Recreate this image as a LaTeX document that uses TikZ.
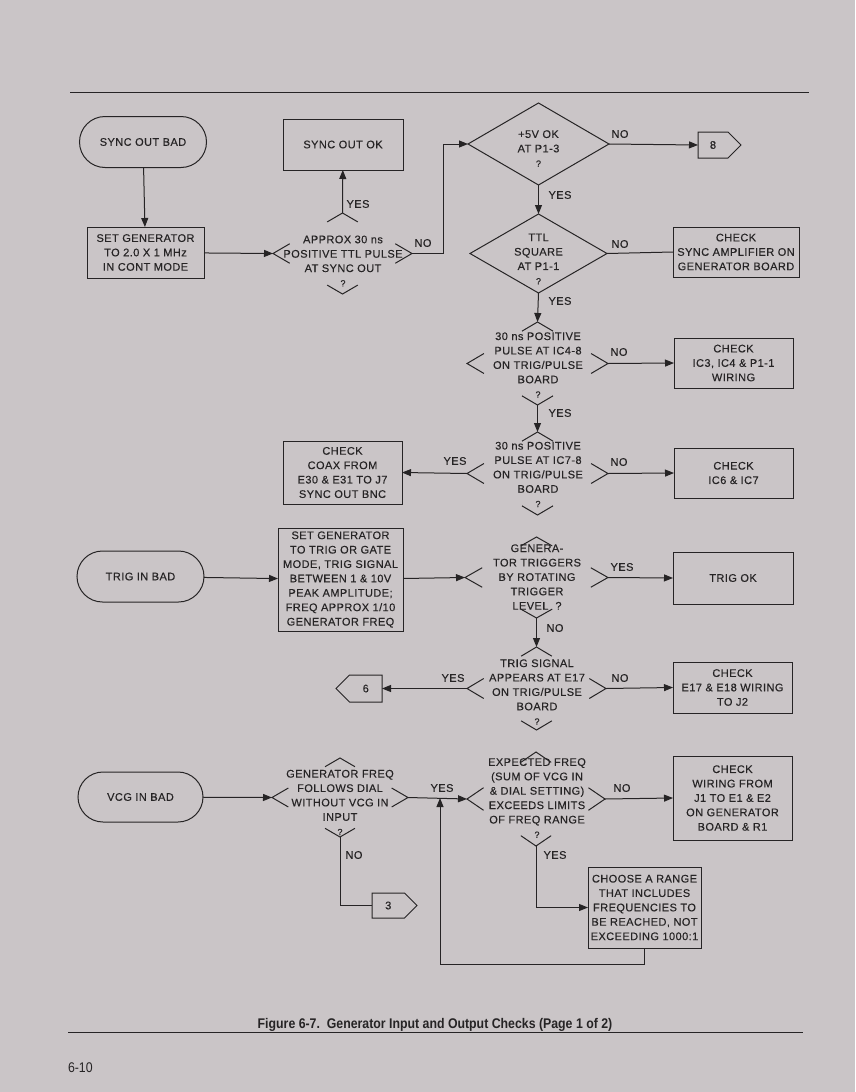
\documentclass[tikz,border=0pt]{standalone}
\usepackage{fontspec}
\usetikzlibrary{arrows.meta, calc, shapes.geometric, shapes.misc, shapes.symbols}
\newfontfamily\chartfont{Liberation Sans}[LetterSpace=4, FakeBold=0.3]
\newfontfamily\capfont{Liberation Sans}[FakeStretch=0.88]
\definecolor{page-bg}{HTML}{CAC5C7}
\definecolor{ink}{HTML}{262425}
\newcommand{\qmark}{{\fontsize{9}{9}\selectfont ?}}

\begin{document}
\begin{tikzpicture}[x=1pt, y=-1pt,
    every node/.style={font=\chartfont\fontsize{11}{14.4}\selectfont, text=ink,
      align=center, inner sep=0pt, outer sep=0pt},
    flow/.style={draw=ink, line width=1pt},
    arr/.style={flow, -{Triangle[length=9pt, width=7pt]}},
    term/.style={rounded rectangle, draw=ink, line width=1pt},
    box/.style={rectangle, draw=ink, line width=1pt},
    dec/.style={diamond},
    fulldec/.style={diamond, draw=ink, line width=1pt},
    conn/.style={signal, signal pointer angle=90, draw=ink, line width=1pt}]
    \fill[page-bg] (0,0) rectangle (855,1092);
    \draw[flow] (70,92) -- (809,92);

    \node[term, minimum width=127, minimum height=51] (sob) at (143,142) {SYNC OUT BAD};
    \node[box, minimum width=117, minimum height=51] (gen1) at (145.5,252.5)
      {SET GENERATOR\\TO 2.0 X 1 MHz\\IN CONT MODE};
    \node[box, minimum width=120, minimum height=51] (syncok) at (343,144.5) {SYNC OUT OK};
    \node[dec, minimum width=139, minimum height=81] (qpulse) at (342.5,253.5) {};
    \node (qpulset) at (343,261) {APPROX 30 ns\\POSITIVE TTL PULSE\\AT SYNC OUT\\\qmark};
    \node[fulldec, minimum width=141, minimum height=82] (q5v) at (538.5,144) {};
    \node (q5vt) at (538.5,148.5) {+5V OK\\AT P1-3\\\qmark};
    \node[conn, signal to=east, minimum width=43, minimum height=26, anchor=west] (c8) at (698,145) {8};
    \node[fulldec, minimum width=137, minimum height=79] (qttl) at (538.5,253.5) {};
    \node (qttlt) at (538.5,259) {TTL\\SQUARE\\AT P1-1\\\qmark};
    \node[box, minimum width=126, minimum height=50] (amp) at (736,252)
      {CHECK\\SYNC AMPLIFIER ON\\GENERATOR BOARD};
    \node[dec, minimum width=141, minimum height=83] (qic4) at (537.5,363.5) {};
    \node (qic4t) at (538,365) {30 ns POSITIVE\\PULSE AT IC4-8\\ON TRIG/PULSE\\BOARD\\\qmark};
    \node[box, minimum width=119, minimum height=50] (ic3) at (733.5,363)
      {CHECK\\IC3, IC4 \& P1-1\\WIRING};
    \node[dec, minimum width=141, minimum height=83] (qic7) at (537.5,473.5) {};
    \node (qic7t) at (538,474.5) {30 ns POSITIVE\\PULSE AT IC7-8\\ON TRIG/PULSE\\BOARD\\\qmark};
    \node[box, minimum width=119, minimum height=63] (coax) at (342.5,472.5)
      {CHECK\\COAX FROM\\E30 \& E31 TO J7\\SYNC OUT BNC};
    \node[box, minimum width=119, minimum height=50] (ic6) at (733.5,473) {CHECK\\IC6 \& IC7};

    \node[term, minimum width=127, minimum height=51] (tib) at (140.5,576.5) {TRIG IN BAD};
    \node[box, minimum width=125, minimum height=103] (gen2) at (340.5,579.5)
      {SET GENERATOR\\TO TRIG OR GATE\\MODE, TRIG SIGNAL\\BETWEEN 1 \& 10V\\PEAK AMPLITUDE;\\FREQ APPROX 1/10\\GENERATOR FREQ};
    \node[dec, minimum width=143, minimum height=81] (qtrig) at (536.5,577.5) {};
    \node (qtrigt) at (537,577) {GENERA-\\TOR TRIGGERS\\BY ROTATING\\TRIGGER\\LEVEL \ ?};
    \node[box, minimum width=120, minimum height=52] (trigok) at (733,578) {TRIG OK};
    \node[dec, minimum width=139, minimum height=83] (qsig) at (536.5,688.5) {};
    \node (qsigt) at (537,692) {TRIG SIGNAL\\APPEARS AT E17\\ON TRIG/PULSE\\BOARD\\\qmark};
    \node[conn, signal to=west, minimum width=46, minimum height=27, anchor=east] (c6) at (382,688.5) {6};
    \node[box, minimum width=119, minimum height=51] (e17) at (732.5,687.5)
      {CHECK\\E17 \& E18 WIRING\\TO J2};

    \node[term, minimum width=125, minimum height=50] (vib) at (140.5,797) {VCG IN BAD};
    \node[dec, minimum width=136, minimum height=79] (qfollow) at (340,797.5) {};
    \node (qfollowt) at (340,802.5) {GENERATOR FREQ\\FOLLOWS DIAL\\WITHOUT VCG IN\\INPUT\\\qmark};
    \node[conn, signal to=east, minimum width=45, minimum height=25, anchor=west] (c3) at (372,905.5) {3};
    \node[dec, minimum width=138, minimum height=94] (qexp) at (536,799) {};
    \node (qexpt) at (537,798) {EXPECTED FREQ\\(SUM OF VCG IN\\\& DIAL SETTING)\\EXCEEDS LIMITS\\OF FREQ RANGE\\\qmark};
    \node[box, minimum width=119, minimum height=84] (wiring) at (732.5,798)
      {CHECK\\WIRING FROM\\J1 TO E1 \& E2\\ON GENERATOR\\BOARD \& R1};
    \node[box, minimum width=113, minimum height=81] (choose) at (644.5,907.5)
      {CHOOSE A RANGE\\THAT INCLUDES\\FREQUENCIES TO\\BE REACHED, NOT\\EXCEEDING 1000:1};
    \coordinate (join) at (440,798);

    \foreach \d in {qpulse, qic4, qic7, qtrig, qsig, qfollow, qexp} {
      \draw[flow] ($(\d.west)!0.24!(\d.north)$) -- (\d.west) -- ($(\d.west)!0.24!(\d.south)$);
      \draw[flow] ($(\d.east)!0.24!(\d.north)$) -- (\d.east) -- ($(\d.east)!0.24!(\d.south)$);
      \draw[flow] ($(\d.north)!0.22!(\d.west)$) -- (\d.north) -- ($(\d.north)!0.22!(\d.east)$);
      \draw[flow] ($(\d.south)!0.22!(\d.west)$) -- (\d.south) -- ($(\d.south)!0.22!(\d.east)$);
    }

    \draw[arr] (sob) -- (gen1);
    \draw[arr] (gen1) -- (qpulse.west);
    \draw[arr] (qpulse.north) -- (syncok);
    \draw[arr] (qpulse.east) -- ++(31,0) |- (q5v.west);
    \draw[arr] (q5v.east) -- (c8.west);
    \draw[arr] (q5v.south) -- (qttl.north);
    \draw[flow] (qttl.east) -- (amp.west);
    \draw[arr] (qttl.south) -- (qic4.north);
    \draw[arr] (qic4.east) -- (ic3.west);
    \draw[arr] (qic4.south) -- (qic7.north);
    \draw[arr] (qic7.west) -- (coax.east);
    \draw[arr] (qic7.east) -- (ic6.west);
    \draw[arr] (tib) -- (gen2);
    \draw[arr] (gen2) -- (qtrig.west);
    \draw[arr] (qtrig.east) -- (trigok.west);
    \draw[arr] (qtrig.south) -- (qsig.north);
    \draw[arr] (qsig.west) -- (c6.east);
    \draw[arr] (qsig.east) -- (e17.west);
    \draw[arr] (vib) -- (qfollow.west);
    \draw[arr] (qfollow.east) -- (qexp.west);
    \draw[flow] (qfollow.south) |- (c3.west);
    \draw[arr] (qexp.east) -- (wiring.west);
    \draw[arr] (qexp.south) |- (choose.west);
    \draw[arr] (choose.south) -- ++(0,16) -| (join);

    \node (y1) at (358,204) {YES};
    \node (n1) at (423,243) {NO};
    \node (n2) at (620,134) {NO};
    \node (y2) at (560,195) {YES};
    \node (n3) at (620,244) {NO};
    \node (y3) at (560,301) {YES};
    \node (n4) at (619,352) {NO};
    \node (y4) at (560,413) {YES};
    \node (y5) at (455,461) {YES};
    \node (n5) at (619,462) {NO};
    \node (y6) at (622,567) {YES};
    \node (n6) at (555,628) {NO};
    \node (y7) at (453,678) {YES};
    \node (n7) at (620,678) {NO};
    \node (y8) at (442,788) {YES};
    \node (n8) at (354,855) {NO};
    \node (n9) at (622,788) {NO};
    \node (y9) at (555,855) {YES};

    \node[font=\capfont\bfseries\fontsize{14}{14}\selectfont] (caption) at (435,1025)
      {Figure 6-7.\ \ Generator Input and Output Checks (Page 1 of 2)};
    \draw[flow] (68,1032) -- (803,1032);
    \node[font=\capfont\fontsize{14}{14}\selectfont, anchor=west] (pageno) at (68,1068) {6-10};
  \end{tikzpicture}
\end{document}
